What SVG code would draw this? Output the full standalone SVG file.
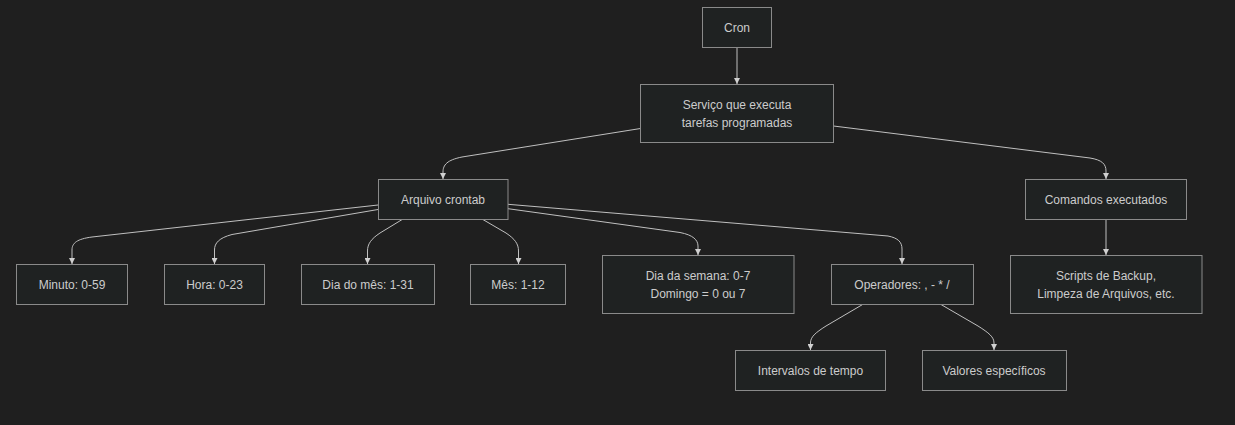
<svg xmlns="http://www.w3.org/2000/svg" width="1235" height="425" viewBox="0 0 1235 425">
<style>
.node rect{fill:#1f2222;stroke:#8a8a8a;stroke-width:1}
.node text{fill:#cccccc;font-family:"Liberation Sans",Arial,sans-serif;font-size:12px;text-anchor:middle;dominant-baseline:central}
.edge{fill:none;stroke:#c0c0c0;stroke-width:1}
</style>
<defs>
<marker id="arrow" viewBox="0 0 10 10" refX="10" refY="5" markerUnits="userSpaceOnUse" markerWidth="6" markerHeight="6" orient="auto">
<path d="M0,0 L10,5 L0,10 z" fill="#d0d0d0"/>
</marker>
</defs>
<rect width="1235" height="425" fill="#1f1f1f"/>
<g id="connectors">
<path class="edge" marker-end="url(#arrow)" d="M737,47.5 L737,84"/>
<path class="edge" marker-end="url(#arrow)" d="M640.5,128.5 L462,157 C447,160 443,165 443,172 L443,179"/>
<path class="edge" marker-end="url(#arrow)" d="M833.5,126 L1090,158 C1102,160 1106,164 1106,171 L1106,179"/>
<path class="edge" marker-end="url(#arrow)" d="M378,205 L92,237 C77,239 72,243 72,250 L72,264"/>
<path class="edge" marker-end="url(#arrow)" d="M378,209.5 L232,234.5 C219,238 214.5,243 214.5,250 L214.5,264"/>
<path class="edge" marker-end="url(#arrow)" d="M403,219 L380,233 C371,239 367.5,244 367.5,251 L367.5,264"/>
<path class="edge" marker-end="url(#arrow)" d="M482,219 L506,233 C515,239 518.5,244 518.5,251 L518.5,264"/>
<path class="edge" marker-end="url(#arrow)" d="M508,208.7 L680,232.5 C693,235 698,240 698,246 L698,255"/>
<path class="edge" marker-end="url(#arrow)" d="M508,204.3 L888,236 C898,238 902,242 902,249 L902,264"/>
<path class="edge" marker-end="url(#arrow)" d="M1106,219.5 L1106,255"/>
<path class="edge" marker-end="url(#arrow)" d="M862.6,304.5 L826,326 C815,333 810.5,337 810.5,343 L810.5,350"/>
<path class="edge" marker-end="url(#arrow)" d="M941,304.5 L978,326 C989,333 994,337 994,343 L994,350"/>
</g>
<g id="cron" class="node"><rect x="702.5" y="7.5" width="69" height="40"/><text x="737" y="27.5">Cron</text></g>
<g id="servico" class="node"><rect x="640.5" y="84.5" width="193" height="58"/><text x="737" y="104.5">Serviço que executa</text><text x="737" y="122.5">tarefas programadas</text></g>
<g id="arquivo" class="node"><rect x="378.5" y="179.5" width="129.5" height="40"/><text x="443" y="199.5">Arquivo crontab</text></g>
<g id="comandos" class="node"><rect x="1025.5" y="179.5" width="161" height="40"/><text x="1106" y="199.5">Comandos executados</text></g>
<g id="minuto" class="node"><rect x="16.5" y="264.5" width="111" height="40"/><text x="72" y="284.5">Minuto: 0-59</text></g>
<g id="hora" class="node"><rect x="164.5" y="264.5" width="100" height="40"/><text x="214.5" y="284.5">Hora: 0-23</text></g>
<g id="diames" class="node"><rect x="301.5" y="264.5" width="133" height="40"/><text x="368" y="284.5">Dia do mês: 1-31</text></g>
<g id="mes" class="node"><rect x="470.5" y="264.5" width="95" height="40"/><text x="518" y="284.5">Mês: 1-12</text></g>
<g id="diasemana" class="node"><rect x="602.5" y="255.5" width="191.5" height="58"/><text x="698" y="275.5">Dia da semana: 0-7</text><text x="698" y="293.5">Domingo = 0 ou 7</text></g>
<g id="operadores" class="node"><rect x="831.5" y="264.5" width="142" height="40"/><text x="902" y="284.5">Operadores: , - * /</text></g>
<g id="scripts" class="node"><rect x="1010.5" y="255.5" width="191.5" height="58"/><text x="1106" y="275.5">Scripts de Backup,</text><text x="1106" y="293.5">Limpeza de Arquivos, etc.</text></g>
<g id="intervalos" class="node"><rect x="735.5" y="350.5" width="150" height="40"/><text x="810.5" y="370.5">Intervalos de tempo</text></g>
<g id="valores" class="node"><rect x="922.5" y="350.5" width="144" height="40"/><text x="994" y="370.5">Valores específicos</text></g>
</svg>
